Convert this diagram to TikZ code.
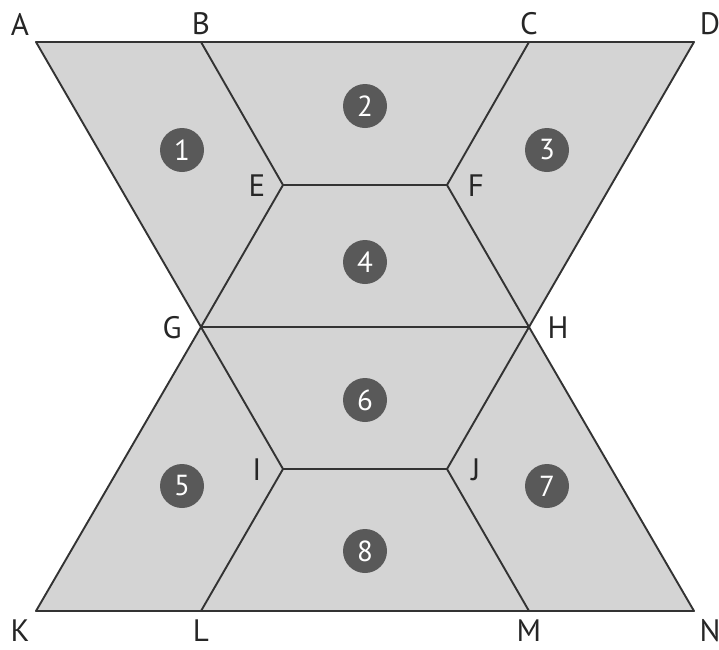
\documentclass[tikz,border=0pt]{standalone}
\usepackage{fontspec}
\setmainfont{PT Sans}
\begin{document}
\begin{tikzpicture}[x=1pt,y=-1pt,
  edge/.style={draw=black!80, line width=1.9pt, line join=round},
  region/.style={fill=black!17},
  lbl/.style={font=\fontsize{31}{34}\selectfont, text=black!85, inner sep=0pt},
  num/.style={circle, fill=black!65, text=white, minimum size=44pt, inner sep=0pt, font=\fontsize{29}{30}\selectfont}]
\useasboundingbox (0,0) rectangle (719,649);
\coordinate (A) at (36,42);
\coordinate (B) at (201,42);
\coordinate (C) at (529,42);
\coordinate (D) at (694,42);
\coordinate (E) at (283,185);
\coordinate (F) at (447,185);
\coordinate (G) at (201,327);
\coordinate (H) at (529,327);
\coordinate (I) at (283,469);
\coordinate (J) at (447,469);
\coordinate (K) at (36,611);
\coordinate (L) at (201,611);
\coordinate (M) at (529,611);
\coordinate (N) at (694,611);
\fill[region] (A) -- (D) -- (H) -- (G) -- cycle;
\fill[region] (G) -- (H) -- (N) -- (K) -- cycle;
\draw[edge] (A) -- (D) -- (H) -- (G) -- cycle;
\draw[edge] (G) -- (H) -- (N) -- (K) -- cycle;
\draw[edge] (B) -- (E) -- (G);
\draw[edge] (C) -- (F) -- (H);
\draw[edge] (E) -- (F);
\draw[edge] (G) -- (I) -- (L);
\draw[edge] (H) -- (J) -- (M);
\draw[edge] (I) -- (J);
\node[lbl] (tA) at (20,24) {A};
\node[lbl] (tB) at (201,24) {B};
\node[lbl] (tC) at (529,24) {C};
\node[lbl] (tD) at (710,24) {D};
\node[lbl] (tE) at (257,186) {E};
\node[lbl] (tF) at (476,186) {F};
\node[lbl] (tG) at (172,328) {G};
\node[lbl] (tH) at (558,328) {H};
\node[lbl] (tI) at (257,470) {I};
\node[lbl] (tJ) at (476,470) {J};
\node[lbl] (tK) at (20,631) {K};
\node[lbl] (tL) at (201,631) {L};
\node[lbl] (tM) at (529,631) {M};
\node[lbl] (tN) at (710,631) {N};
\node[num] (n1) at (182,150) {1};
\node[num] (n2) at (365,106) {2};
\node[num] (n3) at (547,150) {3};
\node[num] (n4) at (365,262) {4};
\node[num] (n6) at (365,400) {6};
\node[num] (n5) at (182,486) {5};
\node[num] (n7) at (547,486) {7};
\node[num] (n8) at (365,551) {8};
\end{tikzpicture}
\end{document}
